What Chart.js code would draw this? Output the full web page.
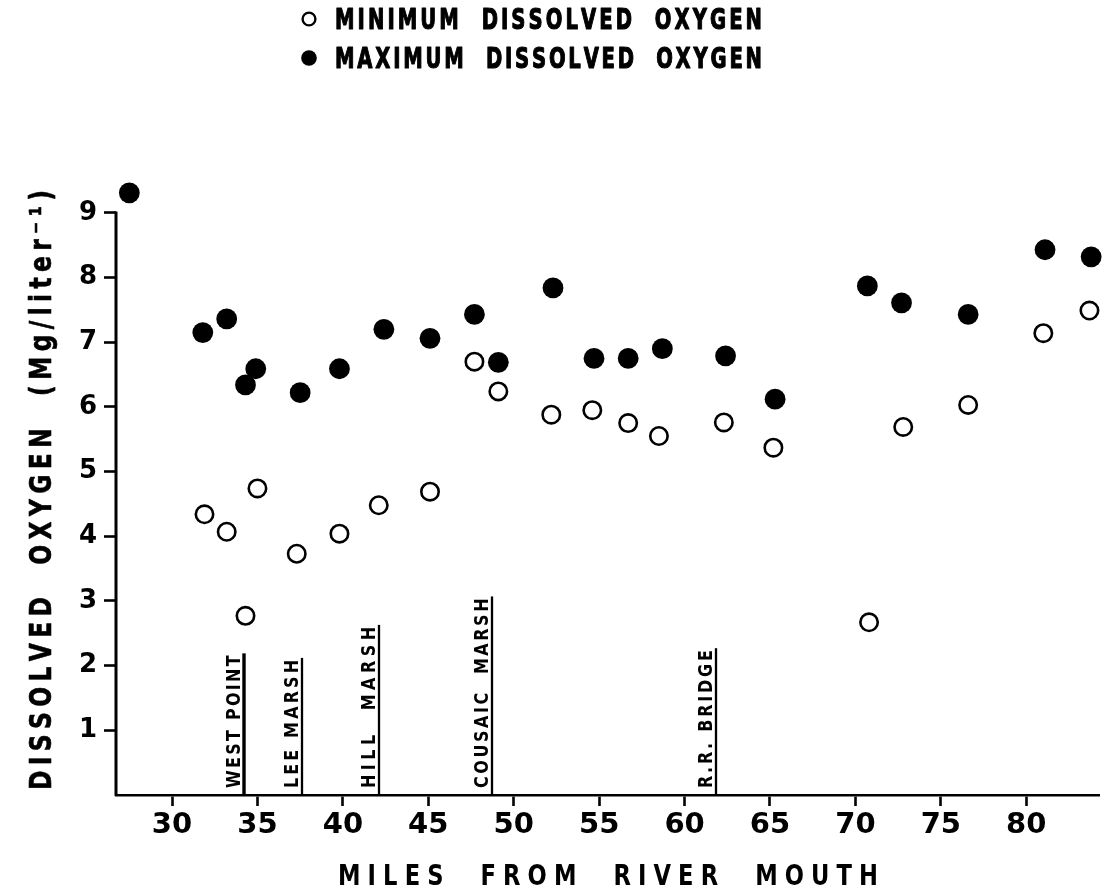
<!DOCTYPE html>
<html>
<head>
<meta charset="utf-8">
<title>Dissolved oxygen along the river</title>
<script src="https://cdn.jsdelivr.net/npm/chart.js@4.4.1/dist/chart.umd.min.js"></script>
<style>
  html, body { margin: 0; padding: 0; background: #ffffff; }
  canvas { display: block; }
</style>
</head>
<body>
<canvas id="chart" width="1111" height="893"></canvas>
<script>
// Minimum dissolved oxygen by station (miles from river mouth, mg/l)
const minMiles  = [31.9, 33.2, 34.3, 35.0, 37.3, 39.8, 42.1, 45.1, 47.7, 49.1, 52.2, 54.6, 56.7, 58.5, 62.3, 65.2, 70.8, 72.8, 76.6, 81.0, 83.7];
const minOxygen = [4.34, 4.07, 2.77, 4.74, 3.73, 4.04, 4.48, 4.69, 6.70, 6.24, 5.88, 5.95, 5.75, 5.55, 5.76, 5.37, 2.67, 5.69, 6.03, 7.14, 7.49];

// Maximum dissolved oxygen by station
const maxMiles  = [27.5, 31.8, 33.2, 34.3, 34.9, 37.5, 39.8, 42.4, 45.1, 47.7, 49.1, 52.3, 54.7, 56.7, 58.7, 62.4, 65.3, 70.7, 72.7, 76.6, 81.1, 83.8];
const maxOxygen = [9.31, 7.15, 7.36, 6.34, 6.59, 6.22, 6.59, 7.20, 7.06, 7.43, 6.69, 7.84, 6.75, 6.75, 6.90, 6.79, 6.12, 7.87, 7.61, 7.43, 8.43, 8.32];

// Landmarks along the river, with the height of their marker lines (mg/l units)
const siteNames   = ['WEST POINT', 'LEE MARSH', 'HILL  MARSH', 'COUSAIC  MARSH', 'R.R. BRIDGE'];
const siteMiles   = [34.22, 37.6, 42.1, 48.75, 61.83];
const siteHeights = [2.19, 2.12, 2.63, 3.07, 2.27];

// Axis ticks
const xTickValues = [30, 35, 40, 45, 50, 55, 60, 65, 70, 75, 80];
const yTickValues = [1, 2, 3, 4, 5, 6, 7, 8, 9];
const yAxisTop = 9;

const xTitle = 'MILES  FROM  RIVER  MOUTH';
const yTitle = 'DISSOLVED  OXYGEN  (Mg/liter\u207B\u00B9)';

const FONT = '"DejaVu Sans", "Liberation Sans", sans-serif';

// Draws text letter by letter, narrowing each glyph by `squeeze`
// and spreading the letters so the run spans `width` pixels.
// `weight` adds an outline to thicken the strokes.
function drawSpaced(ctx, text, x, y, width, squeeze, weight) {
  const chars = Array.from(text);
  const widths = chars.map(ch => ctx.measureText(ch).width * squeeze);
  const total = widths.reduce((a, b) => a + b, 0);
  const gap = chars.length > 1 ? (width - total) / (chars.length - 1) : 0;
  let cx = x;
  chars.forEach((ch, i) => {
    ctx.save();
    ctx.translate(cx, y);
    ctx.scale(squeeze, 1);
    ctx.fillText(ch, 0, 0);
    if (weight) {
      ctx.lineWidth = weight;
      ctx.lineJoin = 'round';
      ctx.strokeText(ch, 0, 0);
    }
    ctx.restore();
    cx += widths[i] + gap;
  });
}

// Left axis line, running from 0 up to the top tick only
const leftAxis = {
  id: 'leftAxis',
  afterDraw(chart) {
    const { ctx, chartArea, scales: { y } } = chart;
    ctx.save();
    ctx.strokeStyle = '#000';
    ctx.lineWidth = 3;
    ctx.beginPath();
    ctx.moveTo(chartArea.left, y.getPixelForValue(0) + 1);
    ctx.lineTo(chartArea.left, y.getPixelForValue(yAxisTop) - 1.3);
    ctx.stroke();
    ctx.restore();
  }
};

// Landmark lines with their vertical names
const landmarks = {
  id: 'landmarks',
  beforeDatasetsDraw(chart) {
    const { ctx, scales: { x, y } } = chart;
    const base = y.getPixelForValue(0);
    ctx.save();
    ctx.fillStyle = '#000';
    ctx.strokeStyle = '#000';
    ctx.font = 'bold 20px ' + FONT;
    ctx.textAlign = 'left';
    ctx.textBaseline = 'alphabetic';
    siteNames.forEach((name, i) => {
      const px = Math.round(x.getPixelForValue(siteMiles[i]));
      const top = y.getPixelForValue(siteHeights[i]);
      ctx.lineWidth = i === 0 ? 3.4 : 2.3;
      ctx.beginPath();
      ctx.moveTo(px, base);
      ctx.lineTo(px, top);
      ctx.stroke();
      ctx.save();
      ctx.translate(px - 4, base - 7);
      ctx.rotate(-Math.PI / 2);
      drawSpaced(ctx, name, 0, 0, (base - 7) - (top + 2), 0.8, 0);
      ctx.restore();
    });
    ctx.restore();
  }
};

// Legend block and axis titles
const labelsPlugin = {
  id: 'labels',
  afterDraw(chart) {
    const { ctx } = chart;
    const sets = chart.data.datasets;
    ctx.save();
    ctx.fillStyle = '#000';
    ctx.strokeStyle = '#000';
    ctx.textAlign = 'left';
    ctx.textBaseline = 'alphabetic';

    // legend markers
    ctx.lineWidth = 2.4;
    ctx.beginPath();
    ctx.arc(309, 19, 6.4, 0, Math.PI * 2);
    ctx.stroke();
    ctx.beginPath();
    ctx.arc(309, 58, 7.8, 0, Math.PI * 2);
    ctx.fill();

    // legend text
    ctx.font = 'bold 28px ' + FONT;
    drawSpaced(ctx, sets[0].label.split(' ').join('  '), 335, 29, 427, 0.7, 1.2);
    drawSpaced(ctx, sets[1].label.split(' ').join('  '), 335, 68, 427, 0.7, 1.2);

    // x-axis title
    ctx.font = 'bold 29px ' + FONT;
    drawSpaced(ctx, xTitle, 338, 885, 540, 0.78, 0);

    // y-axis title
    ctx.save();
    ctx.translate(51, 790);
    ctx.rotate(-Math.PI / 2);
    ctx.font = 'bold 30px ' + FONT;
    drawSpaced(ctx, yTitle, 0, 0, 600, 0.78, 0.6);
    ctx.restore();

    ctx.restore();
  }
};

new Chart(document.getElementById('chart'), {
  type: 'scatter',
  data: {
    datasets: [
      {
        label: 'MINIMUM DISSOLVED OXYGEN',
        data: minMiles.map((m, i) => ({ x: m, y: minOxygen[i] })),
        pointRadius: 8.7,
        pointBorderWidth: 2.6,
        pointBackgroundColor: '#ffffff',
        pointBorderColor: '#000000',
        clip: false
      },
      {
        label: 'MAXIMUM DISSOLVED OXYGEN',
        data: maxMiles.map((m, i) => ({ x: m, y: maxOxygen[i] })),
        pointRadius: 10.4,
        pointBorderWidth: 0,
        pointBackgroundColor: '#000000',
        pointBorderColor: '#000000',
        clip: false
      }
    ]
  },
  options: {
    responsive: false,
    animation: false,
    events: [],
    layout: { padding: { top: 187, left: 0, right: 0, bottom: 0 } },
    plugins: {
      legend: { display: false },
      tooltip: { enabled: false }
    },
    scales: {
      x: {
        type: 'linear',
        min: 26.72,
        max: 84.3,
        afterBuildTicks: s => { s.ticks = xTickValues.map(v => ({ value: v })); },
        afterFit: s => { s.height = 98; },
        grid: {
          display: true,
          drawOnChartArea: false,
          drawTicks: true,
          tickLength: 11,
          tickWidth: 2.6,
          tickColor: '#000'
        },
        border: { display: true, color: '#000', width: 2.6 },
        ticks: {
          color: '#000',
          font: { family: FONT, size: 29, weight: 'bold' },
          padding: 2,
          maxRotation: 0,
          autoSkip: false
        }
      },
      y: {
        type: 'linear',
        min: 0,
        max: 9.4,
        afterBuildTicks: s => { s.ticks = yTickValues.map(v => ({ value: v })); },
        afterFit: s => { s.width = 116; },
        grid: {
          display: true,
          drawOnChartArea: false,
          drawTicks: true,
          tickLength: 12,
          tickWidth: 2.6,
          tickColor: '#000'
        },
        border: { display: false },
        ticks: {
          color: '#000',
          font: { family: FONT, size: 26, weight: 'bold' },
          padding: 7,
          autoSkip: false
        }
      }
    }
  },
  plugins: [landmarks, leftAxis, labelsPlugin]
});
</script>
</body>
</html>
